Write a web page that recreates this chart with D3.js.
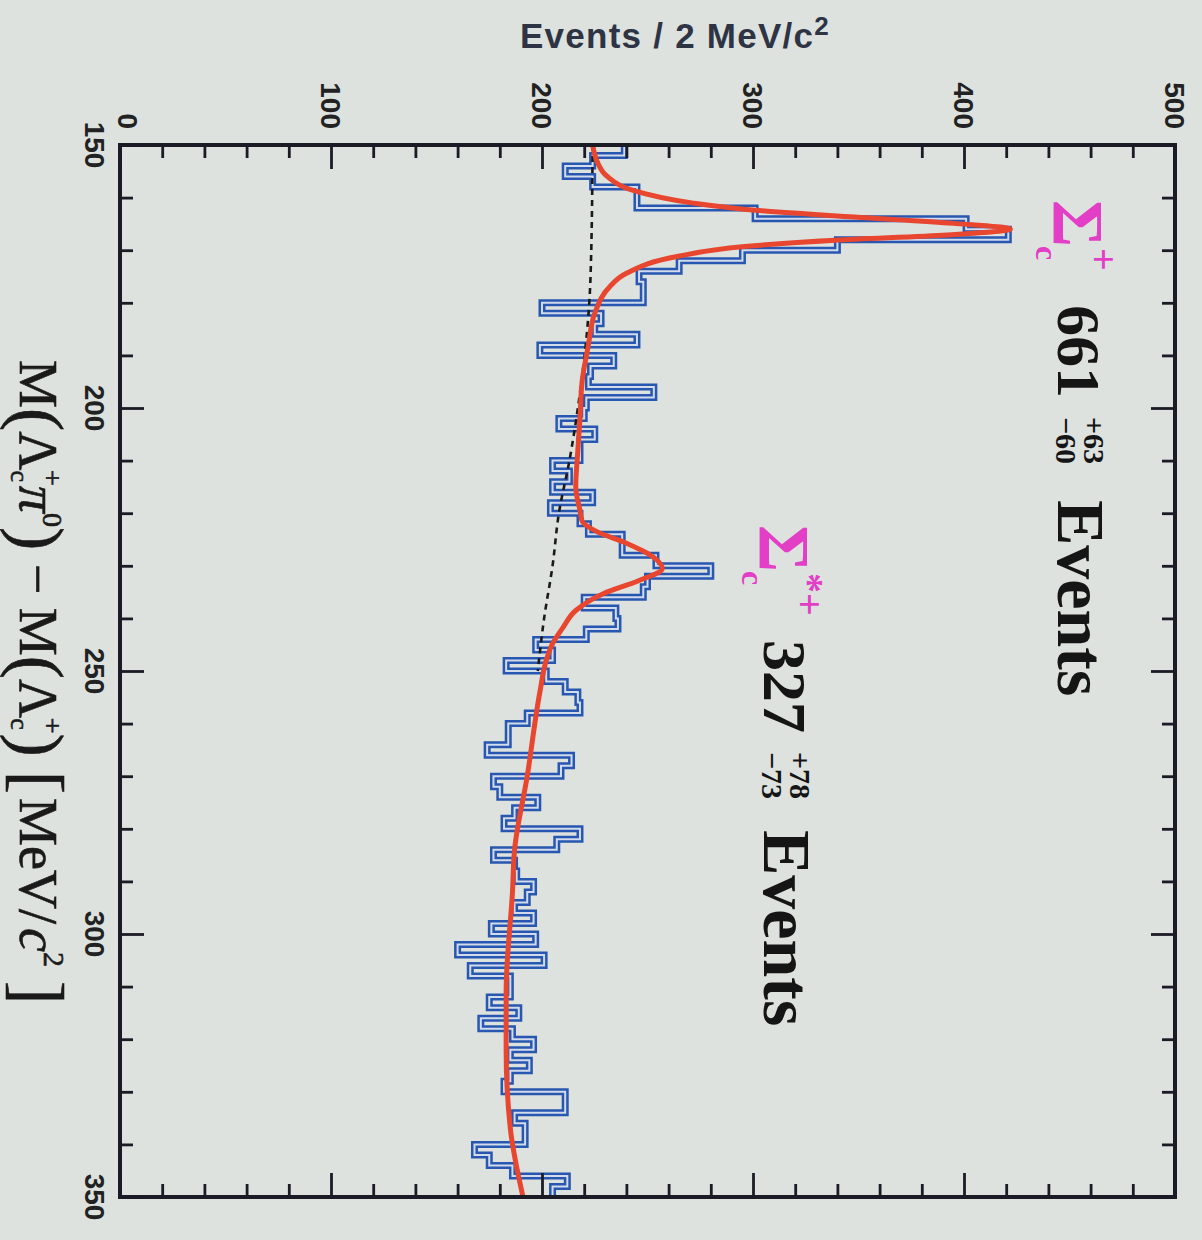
<!DOCTYPE html>
<html>
<head>
<meta charset="utf-8">
<script src="https://cdn.jsdelivr.net/npm/d3@7"></script>
<style>
  body { margin: 0; background: #dde2de; }
  svg { display: block; }
</style>
</head>
<body>
<svg id="chart" width="1202" height="1240"></svg>
<script>
// histogram: 2 MeV bins from 150 to 350
var binStart = 150, binWidth = 2;
var counts = [
  239,224,211,224,245,245,301,401,421,340,
  295,265,246,248,248,200,228,225,245,199,
  234,223,222,253,221,220,208,225,218,218,
  205,213,205,224,204,218,222,238,238,254,
  280,250,248,220,235,236,221,197,205,183,
  202,211,217,218,193,184,184,174,214,209,
  177,180,198,187,182,218,207,177,187,188,
  196,193,187,196,176,197,160,201,166,185,
  185,175,189,171,186,196,185,194,185,182,
  211,211,187,192,192,168,175,186,212,205
];

// fit curve
var fitMass   = [150,153,156,158.5,161,162.4,163.7,164.9,166,167.1,168.1,169.3,171.2,174.4,177,182,188,195,202,208,215,219.5,221.5,223.5,225.7,228.4,230.5,232.8,235.3,238.5,241.7,244.8,248,254,270,284,292,311,322,337,350];
var fitCounts = [224,226,231,242,271,301,348,395,422,392,339,296,264,240,232,225,222,219,218,217,216,218,219,226,240,253,257,246,229,216,210,205,202,199,193,187,186,183,183,185,191];

// background (dashed)
var bgMass   = [150,175,200,210,220,230,240,250];
var bgCounts = [224,223,217,213,208,205,201,198];

var eventTicks = [0,100,200,300,400,500];
var eventMinor = [20,40,60,80,120,140,160,180,220,240,260,280,320,340,360,380,420,440,460,480];
var massTicks = [150,200,250,300,350];
var massMinor = [160,170,180,190,210,220,230,240,260,270,280,290,310,320,330,340];

var svg = d3.select("#chart");
var pL = 120, pR = 1175, pT = 145, pB = 1197;

var x = d3.scaleLinear().domain([0, 500]).range([pL, pR]);      // events -> horizontal
var y = d3.scaleLinear().domain([150, 350]).range([pT, pB]);    // mass -> vertical

var ink = "#1b1b26";

// histogram outline as steps (thick blue with a light core, like the slide)
var pts = [];
counts.forEach(function(c, i) {
  var lo = binStart + i * binWidth;
  pts.push([x(c), y(lo)]);
  pts.push([x(c), y(lo + binWidth)]);
});
var stepLine = d3.line();
svg.append("path").attr("d", stepLine(pts))
  .attr("fill", "none").attr("stroke", "#2757b0").attr("stroke-width", 7)
  .attr("stroke-linejoin", "miter");
svg.append("path").attr("d", stepLine(pts))
  .attr("fill", "none").attr("stroke", "#d2dbec").attr("stroke-width", 2);

// background dashed
var curve = d3.line()
  .x(function(d) { return x(d[1]); })
  .y(function(d) { return y(d[0]); })
  .curve(d3.curveMonotoneY);
svg.append("path").attr("d", curve(d3.zip(bgMass, bgCounts)))
  .attr("fill", "none").attr("stroke", "#1a1a1a").attr("stroke-width", 2.6)
  .attr("stroke-dasharray", "6,5");

// fit
svg.append("path").attr("d", curve(d3.zip(fitMass, fitCounts)))
  .attr("fill", "none").attr("stroke", "#e8462e").attr("stroke-width", 5);

// frame
svg.append("rect").attr("x", pL).attr("y", pT)
  .attr("width", pR - pL).attr("height", pB - pT)
  .attr("fill", "none").attr("stroke", ink).attr("stroke-width", 4);

// ticks on all four sides, pointing inward
function ticks(axisFn, scale, vals, len, tr) {
  var g = svg.append("g").attr("transform", tr)
    .call(axisFn(scale).tickValues(vals).tickSize(-len).tickFormat(""));
  g.select(".domain").remove();
  g.selectAll("line").attr("stroke", ink).attr("stroke-width", 2.8);
}
ticks(d3.axisTop, x, eventTicks, 24, "translate(0," + pT + ")");
ticks(d3.axisTop, x, eventMinor, 13, "translate(0," + pT + ")");
ticks(d3.axisBottom, x, eventTicks, 24, "translate(0," + pB + ")");
ticks(d3.axisBottom, x, eventMinor, 13, "translate(0," + pB + ")");
ticks(d3.axisLeft, y, massTicks, 24, "translate(" + pL + ",0)");
ticks(d3.axisLeft, y, massMinor, 13, "translate(" + pL + ",0)");
ticks(d3.axisRight, y, massTicks, 24, "translate(" + pR + ",0)");
ticks(d3.axisRight, y, massMinor, 13, "translate(" + pR + ",0)");

// tick labels, rotated like the rest of the figure
var sans = "'Liberation Sans', Arial, sans-serif";
eventTicks.forEach(function(v) {
  svg.append("text")
    .attr("transform", "translate(" + (x(v) + (v === 0 ? 8 : 0)) + "," + (pT - 16) + ") rotate(90)")
    .attr("text-anchor", "end").attr("dy", "0.35em")
    .style("font-family", sans).style("font-weight", "bold").style("font-size", "28px")
    .attr("fill", "#222").text(v);
});
massTicks.forEach(function(v) {
  svg.append("text")
    .attr("transform", "translate(85," + y(v) + ") rotate(90)")
    .attr("text-anchor", "middle")
    .style("font-family", sans).style("font-weight", "bold").style("font-size", "28px")
    .attr("fill", "#222").text(v);
});

// events axis title (horizontal)
var yt = svg.append("text").attr("x", 520).attr("y", 48)
  .style("font-family", sans).style("font-weight", "bold").style("font-size", "35px")
  .attr("fill", "#2e3444");
yt.append("tspan").attr("textLength", 293).text("Events / 2 MeV/c");
yt.append("tspan").attr("dy", -13).style("font-size", "26px").text("2");

// mass axis title, rotated
var serif = "'Liberation Serif', 'Times New Roman', serif";
var xt = svg.append("text").attr("transform", "translate(20,360) rotate(90)")
  .style("font-family", serif).style("font-size", "54px").attr("fill", "#1a1a1a")
  .attr("stroke", "#1a1a1a").attr("stroke-width", 0.6);
xt.append("tspan").text("M");
xt.append("tspan").style("font-size", "70px").attr("dy", 5).text("(");
xt.append("tspan").attr("dy", -5).text("Λ");
xt.append("tspan").style("font-size", "26px").attr("dy", 9).text("c");
xt.append("tspan").style("font-size", "28px").attr("dx", -12).attr("dy", -32).text("+");
xt.append("tspan").style("font-style", "italic").attr("dy", 23).text("π");
xt.append("tspan").style("font-size", "28px").attr("dy", -23).text("0");
xt.append("tspan").style("font-size", "70px").attr("dy", 28).text(")");
xt.append("tspan").attr("dy", -5).text(" − M");
xt.append("tspan").style("font-size", "70px").attr("dy", 5).text("(");
xt.append("tspan").attr("dy", -5).text("Λ");
xt.append("tspan").style("font-size", "26px").attr("dy", 9).text("c");
xt.append("tspan").style("font-size", "28px").attr("dx", -12).attr("dy", -32).text("+");
xt.append("tspan").style("font-size", "70px").attr("dy", 28).text(")");
xt.append("tspan").style("font-size", "70px").attr("dx", 14).text("[");
xt.append("tspan").attr("dy", -5).attr("dx", 4).text("MeV/");
xt.append("tspan").style("font-style", "italic").attr("dx", 4).text("c");
xt.append("tspan").style("font-size", "30px").attr("dy", -24).text("2");
xt.append("tspan").style("font-size", "70px").attr("dx", 14).attr("dy", 29).text("]");

// peak annotations
var magenta = "#e23ec6";
function annot(tx, ty, num, up, down, star, numX, evX) {
  var g = svg.append("g").attr("transform", "translate(" + tx + "," + ty + ") rotate(90)")
    .style("font-family", serif);
  g.append("text").attr("x", 0).attr("y", 0).style("font-size", "72px").style("font-weight", "bold")
    .attr("fill", magenta).text("Σ");
  g.append("text").attr("x", 46).attr("y", 18).style("font-size", "32px").style("font-weight", "bold")
    .attr("fill", magenta).text("c");
  g.append("text").attr("x", 48).attr("y", -36).style("font-size", "40px").style("font-weight", "bold")
    .attr("fill", magenta).text(star ? "*+" : "+");
  g.append("text").attr("x", numX).attr("y", -4).style("font-size", "62px").style("font-weight", "bold")
    .attr("fill", "#151515").text(num);
  g.append("text").attr("x", numX + 112).attr("y", -30)
    .style("font-size", "30px").style("font-weight", "bold").attr("fill", "#151515").text(up);
  g.append("text").attr("x", numX + 112).attr("y", -2)
    .style("font-size", "30px").style("font-weight", "bold").attr("fill", "#151515").text(down);
  g.append("text").attr("x", evX).attr("y", -4).style("font-size", "68px").style("font-weight", "bold")
    .attr("fill", "#151515").text("Events");
}
annot(1054, 200, "661", "+63", "−60", false, 105, 300);
annot(760, 525, "327", "+78", "−73", true, 115, 305);
</script>
</body>
</html>
